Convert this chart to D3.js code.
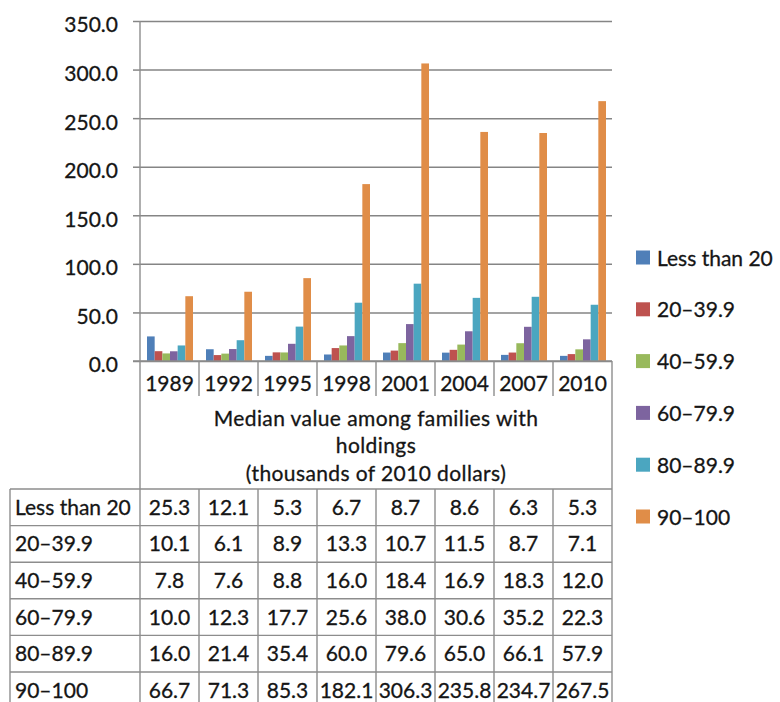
<!DOCTYPE html>
<html>
<head>
<meta charset="utf-8">
<script src="https://cdn.jsdelivr.net/npm/d3@7"></script>
<style>
  html, body { margin: 0; padding: 0; background: #fff; }
  svg { display: block; font-family: Lato, "Open Sans", sans-serif; }
  svg text { stroke: #151515; stroke-width: 0.3px; }
</style>
</head>
<body>
<script>
// Survey years (categories on the x axis)
const years = ["1989", "1992", "1995", "1998", "2001", "2004", "2007", "2010"];

// Income percentile groups (series)
const groups = ["Less than 20", "20–39.9", "40–59.9", "60–79.9", "80–89.9", "90–100"];

// Median value among families with holdings, thousands of 2010 dollars
const lessThan20 = [25.3, 12.1, 5.3, 6.7, 8.7, 8.6, 6.3, 5.3];
const p20to39 = [10.1, 6.1, 8.9, 13.3, 10.7, 11.5, 8.7, 7.1];
const p40to59 = [7.8, 7.6, 8.8, 16.0, 18.4, 16.9, 18.3, 12.0];
const p60to79 = [10.0, 12.3, 17.7, 25.6, 38.0, 30.6, 35.2, 22.3];
const p80to89 = [16.0, 21.4, 35.4, 60.0, 79.6, 65.0, 66.1, 57.9];
const p90to100 = [66.7, 71.3, 85.3, 182.1, 306.3, 235.8, 234.7, 267.5];

const seriesValues = [lessThan20, p20to39, p40to59, p60to79, p80to89, p90to100];
const colors = ["#4F7FB8", "#BE524F", "#98B95C", "#7D649F", "#4BA6C0", "#E08D48"];

const yTicks = [0, 50, 100, 150, 200, 250, 300, 350];
const tableTitle = ["Median value among families with", "holdings", "(thousands of 2010 dollars)"];

const W = 780, H = 702;
const plotLeft = 140, plotRight = 612, plotTop = 21, plotBase = 361;
const lineColor = "#8d8d8d";
const gridColor = "#858585";
const textColor = "#151515";
const fontSize = 21;

const svg = d3.select("body").append("svg").attr("width", W).attr("height", H);

const x0 = d3.scaleBand().domain(years).range([plotLeft, plotRight]).padding(0);
const x1 = d3.scaleBand().domain(groups).range([7, x0.bandwidth() - 6]).padding(0);
const y = d3.scaleLinear().domain([0, 350]).range([plotBase, plotTop]);
const color = d3.scaleOrdinal().domain(groups).range(colors);

// Horizontal gridlines
svg.append("g")
  .attr("transform", `translate(${plotLeft},0)`)
  .call(d3.axisLeft(y).tickValues(yTicks).tickSize(-(plotRight - plotLeft)).tickFormat(""))
  .call(g => g.select(".domain").remove())
  .call(g => g.selectAll("line").attr("stroke", gridColor).attr("stroke-width", 1.5));

// Y axis with outward ticks and labels
svg.append("g")
  .attr("transform", `translate(${plotLeft},0)`)
  .call(d3.axisLeft(y).tickValues(yTicks).tickSize(7).tickPadding(15).tickFormat(d3.format(".1f")))
  .call(g => g.select(".domain").remove())
  .call(g => g.selectAll("line").attr("stroke", gridColor).attr("stroke-width", 1.5))
  .call(g => g.selectAll("text")
    .attr("fill", textColor)
    .attr("font-size", fontSize)
    .attr("font-family", "Lato, sans-serif")
    .attr("dy", "0.52em"));

// Bars
const rows = groups.map((name, i) => ({ name, values: seriesValues[i] }));
svg.append("g").selectAll("g")
  .data(rows)
  .join("g")
  .attr("fill", d => color(d.name))
  .selectAll("rect")
  .data(d => d.values.map((v, j) => ({ name: d.name, year: years[j], v })))
  .join("rect")
  .attr("x", d => x0(d.year) + x1(d.name))
  .attr("width", x1.bandwidth())
  .attr("y", d => y(d.v))
  .attr("height", d => plotBase - y(d.v));

// Data table below the plot
const tableLeft = 10;
const headTop = 489;
const rowH = 36.6;
const tbl = svg.append("g").attr("stroke", lineColor).attr("stroke-width", 1.4);

// Baseline of the plot
tbl.append("line").attr("x1", plotLeft - 7).attr("x2", plotRight).attr("y1", plotBase).attr("y2", plotBase);
// Vertical axis line continuing through the table
tbl.append("line").attr("x1", plotLeft).attr("x2", plotLeft).attr("y1", plotTop).attr("y2", H + 10);
// Right border of the table
tbl.append("line").attr("x1", plotRight).attr("x2", plotRight).attr("y1", plotBase).attr("y2", H + 10);
// Left border of the row-label column
tbl.append("line").attr("x1", tableLeft).attr("x2", tableLeft).attr("y1", headTop).attr("y2", H + 10);

// Separators between year labels
tbl.selectAll(".ysep")
  .data(years.slice(1))
  .join("line")
  .attr("x1", d => x0(d)).attr("x2", d => x0(d))
  .attr("y1", plotBase).attr("y2", plotBase + 35);

// Column separators in the data rows
tbl.selectAll(".csep")
  .data(years.slice(1))
  .join("line")
  .attr("x1", d => x0(d)).attr("x2", d => x0(d))
  .attr("y1", headTop).attr("y2", H + 10);

// Row separators
tbl.selectAll(".rsep")
  .data(d3.range(groups.length + 1))
  .join("line")
  .attr("x1", tableLeft).attr("x2", plotRight)
  .attr("y1", i => headTop + i * rowH).attr("y2", i => headTop + i * rowH);

const txt = svg.append("g")
  .attr("fill", textColor)
  .attr("font-size", fontSize)
  .attr("font-family", "Lato, sans-serif");

// Year labels
txt.selectAll(".year")
  .data(years)
  .join("text")
  .attr("x", d => x0(d) + x0.bandwidth() / 2)
  .attr("y", 383)
  .attr("dy", "0.36em")
  .attr("text-anchor", "middle")
  .text(d => d);

// Table title
txt.selectAll(".ttl")
  .data(tableTitle)
  .join("text")
  .attr("x", (plotLeft + plotRight) / 2)
  .attr("y", (d, i) => 418 + i * 27.5)
  .attr("dy", "0.36em")
  .attr("text-anchor", "middle")
  .attr("letter-spacing", 0.4)
  .text(d => d);

// Row labels
txt.selectAll(".rlab")
  .data(groups)
  .join("text")
  .attr("x", 15)
  .attr("y", (d, i) => headTop + i * rowH + rowH / 2)
  .attr("dy", "0.36em")
  .text(d => d);

// Cell values
const fmt = d3.format(".1f");
rows.forEach((r, i) => {
  txt.selectAll(null)
    .data(r.values)
    .join("text")
    .attr("x", (v, j) => x0(years[j]) + x0.bandwidth() / 2)
    .attr("y", headTop + i * rowH + rowH / 2)
    .attr("dy", "0.36em")
    .attr("text-anchor", "middle")
    .text(v => fmt(v));
});

// Legend
const legend = svg.append("g")
  .selectAll("g")
  .data(groups)
  .join("g")
  .attr("transform", (d, i) => `translate(636,${258 + i * 51.8})`);
legend.append("rect")
  .attr("x", 0).attr("y", -7.5)
  .attr("width", 14).attr("height", 14)
  .attr("fill", d => color(d));
legend.append("text")
  .attr("x", 21)
  .attr("y", 0)
  .attr("dy", "0.36em")
  .attr("fill", textColor)
  .attr("font-size", fontSize)
  .attr("font-family", "Lato, sans-serif")
  .text(d => d);
</script>
</body>
</html>
